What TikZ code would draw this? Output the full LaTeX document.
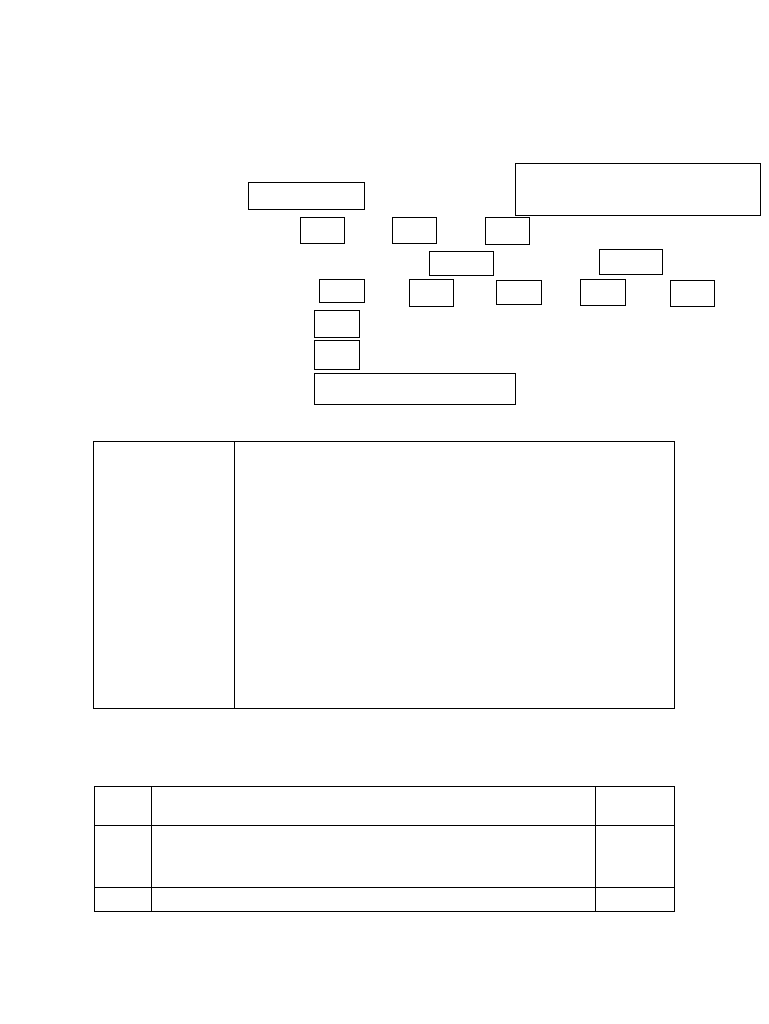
\documentclass[tikz,border=0pt]{standalone}
\usepackage{tikz}

\begin{document}
\begin{tikzpicture}[x=1pt,y=-1pt,box/.style={rectangle,draw,inner sep=0pt,line width=0.8pt}]
\useasboundingbox (0,0) rectangle (768,1024);
%\draw[help lines] (0,0) grid[step=50] (768,1024);
\path (0,0)
(306,195.5) node(top) [box,minimum width=116,minimum height=27] {}
(637.5,189) node(note) [box,minimum width=245,minimum height=52] {}
(322,230) node(ra) [box,minimum width=44,minimum height=26] {}
(414,230) node(rb) [box,minimum width=44,minimum height=26] {}
(507,230.5) node(rc) [box,minimum width=44,minimum height=27] {}
(461,263) node(ma) [box,minimum width=64,minimum height=24] {}
(630.5,261.5) node(mb) [box,minimum width=63,minimum height=25] {}
(341.5,290.5) node(la) [box,minimum width=45,minimum height=23] {}
(431,292.5) node(lb) [box,minimum width=44,minimum height=27] {}
(518.5,292) node(lc) [box,minimum width=45,minimum height=24] {}
(602.5,292) node(ld) [box,minimum width=45,minimum height=26] {}
(692,293) node(le) [box,minimum width=44,minimum height=26] {}
(336.5,323.5) node(sa) [box,minimum width=45,minimum height=27] {}
(336.5,354.5) node(sb) [box,minimum width=45,minimum height=29] {}
(414.5,388.5) node(sc) [box,minimum width=201,minimum height=31] {};
% first table
\path (163.5,574.5) node(tl) [box,minimum width=141,minimum height=267] {}
(454,574.5) node(tr) [box,minimum width=440,minimum height=267] {};
% second table
\path (122.5,805.5) node(aa) [box,minimum width=57,minimum height=39] {}
(373,805.5) node(ab) [box,minimum width=444,minimum height=39] {}
(634.5,805.5) node(ac) [box,minimum width=79,minimum height=39] {}
(122.5,856) node(ba) [box,minimum width=57,minimum height=62] {}
(373,856) node(bb) [box,minimum width=444,minimum height=62] {}
(634.5,856) node(bc) [box,minimum width=79,minimum height=62] {}
(122.5,899) node(ca) [box,minimum width=57,minimum height=24] {}
(373,899) node(cb) [box,minimum width=444,minimum height=24] {}
(634.5,899) node(cc) [box,minimum width=79,minimum height=24] {};
\end{tikzpicture}
\end{document}
